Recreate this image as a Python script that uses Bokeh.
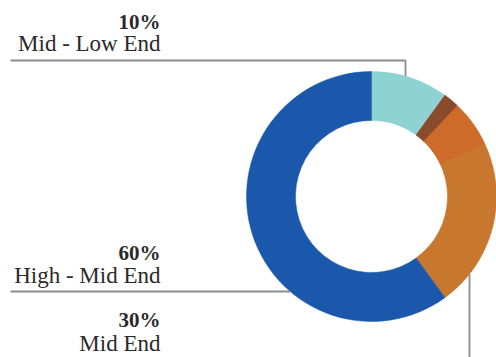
import math
from bokeh.plotting import figure
from bokeh.embed import file_html
from bokeh.resources import INLINE
from bokeh.core.properties import value

# ---- data ----
categories = ["Mid - Low End", "Mid End", "High - Mid End"]
shares = [10, 30, 60]
pct_labels = ["10%", "30%", "60%"]
colors = ["#8fd2d4", "#c8772f", "#1b58ab"]

W, H = 496, 357
CX, CY = 371, 196          # donut centre (image coords, y down)
R_OUT, R_IN = 125, 76

def fy(y):
    return H - y

p = figure(width=W, height=H, x_range=(0, W), y_range=(0, H),
           output_backend="svg", toolbar_location=None,
           min_border=0, outline_line_color=None, background_fill_color="white")
p.axis.visible = False
p.grid.visible = False

total = float(sum(shares))
cum = 0.0
starts, ends = [], []
for s in shares:
    a0 = math.pi / 2 - 2 * math.pi * cum / total
    cum += s
    a1 = math.pi / 2 - 2 * math.pi * cum / total
    starts.append(a0)
    ends.append(a1)

p.annular_wedge(x=[CX] * 3, y=[fy(CY)] * 3, inner_radius=R_IN, outer_radius=R_OUT,
                start_angle=starts, end_angle=ends, direction="clock",
                fill_color=colors, line_color=colors, line_width=0.5)

# darker shading at the start of the "Mid End" slice (photo shading)
i_mid = categories.index("Mid End")
acc_span = 2 * math.pi * 0.02
p.annular_wedge(x=[CX], y=[fy(CY)], inner_radius=R_IN, outer_radius=R_OUT,
                start_angle=[starts[i_mid] - acc_span], end_angle=[starts[i_mid] - 4 * acc_span],
                direction="clock", fill_color="#d0652a", line_color=None, fill_alpha=0.75)
p.annular_wedge(x=[CX], y=[fy(CY)], inner_radius=R_IN, outer_radius=R_OUT,
                start_angle=[starts[i_mid]], end_angle=[starts[i_mid] - acc_span],
                direction="clock", fill_color="#8a4a2c", line_color="#8a4a2c", line_width=0.5)

# ---- leader lines ----
LC = "#8c8c8c"
xv = 405
yt = CY - math.sqrt(R_OUT ** 2 - (xv - CX) ** 2)
p.line([10, xv, xv], [fy(60), fy(60), fy(yt)], line_color=LC, line_width=1.8)
ym = 291
xm = CX - math.sqrt(R_OUT ** 2 - (ym - CY) ** 2)
p.line([10, xm], [fy(ym), fy(ym)], line_color=LC, line_width=1.8)
xb = 469
yb = CY + math.sqrt(R_OUT ** 2 - (xb - CX) ** 2)
p.line([xb, xb], [fy(yb), fy(H + 2)], line_color=LC, line_width=1.8)

# ---- labels ----
order = [0, 2, 1]
pct_y = [21, 252, 319]
name_y = [43, 275, 343]
LX = 160
p.text(x=[LX] * 3, y=[fy(v) for v in pct_y], text=[pct_labels[i] for i in order],
       text_align="right", text_baseline="alphabetic",
       text_font=value("Liberation Serif"), text_font_style="bold",
       text_font_size="21px", text_color="#2a2a2a")
p.text(x=[LX] * 3, y=[fy(v) for v in name_y], text=[categories[i] for i in order],
       text_align="right", text_baseline="alphabetic",
       text_font=value("Liberation Serif"),
       text_font_size="23px", text_color="#2a2a2a")

open("out.html", "w").write(file_html(p, INLINE))
